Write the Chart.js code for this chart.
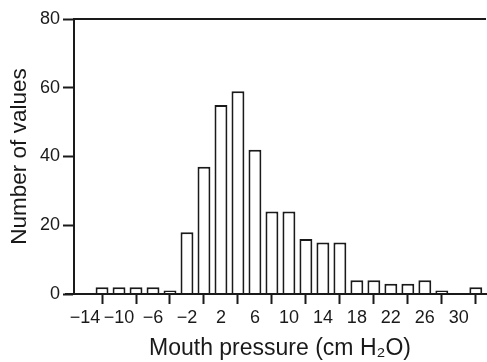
<!DOCTYPE html>
<html>
<head>
<meta charset="utf-8">
<script src="https://cdn.jsdelivr.net/npm/chart.js@4"></script>
<style>
html,body{margin:0;padding:0;background:#fff;}
#wrap{width:487px;height:362px;}
</style>
</head>
<body>
<div id="wrap"><canvas id="c" width="487" height="362"></canvas></div>
<script>
// Bin centres (cm H2O) and counts
const binCentres = [-12,-10,-8,-6,-4,-2,0,2,4,6,8,10,12,14,16,18,20,22,24,26,28,30,32];
const counts     = [  2,  2, 2, 2, 1,18,37,55,59,42,24,24,16,15,15, 4, 4, 3, 3, 4, 1, 0, 2];
const xTickValues = [-14,-10,-6,-2,2,6,10,14,18,22,26,30];
const yTickValues = [0,20,40,60,80];
const xTitle = 'Mouth pressure (cm H\u2082O)';
const yTitle = 'Number of values';

const FONT = '"Liberation Sans", Arial, Helvetica, sans-serif';

const frame = {
  id: 'frame',
  afterDraw(chart) {
    const {ctx, chartArea: a} = chart;
    ctx.save();
    ctx.strokeStyle = '#1a1a1a';
    ctx.lineWidth = 2;
    ctx.lineCap = 'butt';
    ctx.beginPath();
    // top border
    ctx.moveTo(a.left, a.top);
    ctx.lineTo(a.right, a.top);
    // x axis baseline extended slightly left of y axis
    ctx.moveTo(a.left - 9, a.bottom);
    ctx.lineTo(a.right, a.bottom);
    ctx.stroke();
    ctx.restore();
  }
};

new Chart(document.getElementById('c'), {
  type: 'bar',
  data: {
    datasets: [{
      data: binCentres.map((x, i) => ({x, y: counts[i]})),
      backgroundColor: '#ffffff',
      borderColor: '#1a1a1a',
      borderWidth: 2,
      borderSkipped: 'bottom',
      categoryPercentage: 1.0,
      barPercentage: 0.76
    }]
  },
  options: {
    responsive: false,
    animation: false,
    events: [],
    layout: {padding: {top: 19, right: 1, left: 0, bottom: 0}},
    plugins: {legend: {display: false}, tooltip: {enabled: false}},
    scales: {
      x: {
        type: 'linear',
        min: -15.3,
        max: 33.2,
        offset: false,
        afterFit(s) { s.height = 68; },
        afterBuildTicks(s) { s.ticks = xTickValues.map(v => ({value: v})); },
        grid: {display: true, drawOnChartArea: false, drawTicks: true, tickLength: 10, tickWidth: 2, tickColor: '#1a1a1a', color: '#1a1a1a'},
        border: {display: true, color: '#1a1a1a', width: 2},
        ticks: {
          color: '#1a1a1a',
          padding: 3,
          maxRotation: 0,
          autoSkip: false,
          font: {family: FONT, size: 18},
          callback: v => String(v).replace('-', '\u2212')
        },
        title: {display: true, text: xTitle, color: '#1a1a1a', font: {family: FONT, size: 23}, padding: {top: 0, bottom: 0}}
      },
      y: {
        min: 0,
        max: 80,
        afterFit(s) { s.width = 74; },
        afterBuildTicks(s) { s.ticks = yTickValues.map(v => ({value: v})); },
        grid: {display: true, drawOnChartArea: false, drawTicks: true, tickLength: 11, tickWidth: 2, tickColor: '#1a1a1a', color: '#1a1a1a'},
        border: {display: true, color: '#1a1a1a', width: 2},
        ticks: {color: '#1a1a1a', padding: 3, font: {family: FONT, size: 18}},
        title: {display: true, text: yTitle, color: '#1a1a1a', font: {family: FONT, size: 22.5}, padding: {top: 6, bottom: 0}}
      }
    }
  },
  plugins: [frame]
});
</script>
</body>
</html>
